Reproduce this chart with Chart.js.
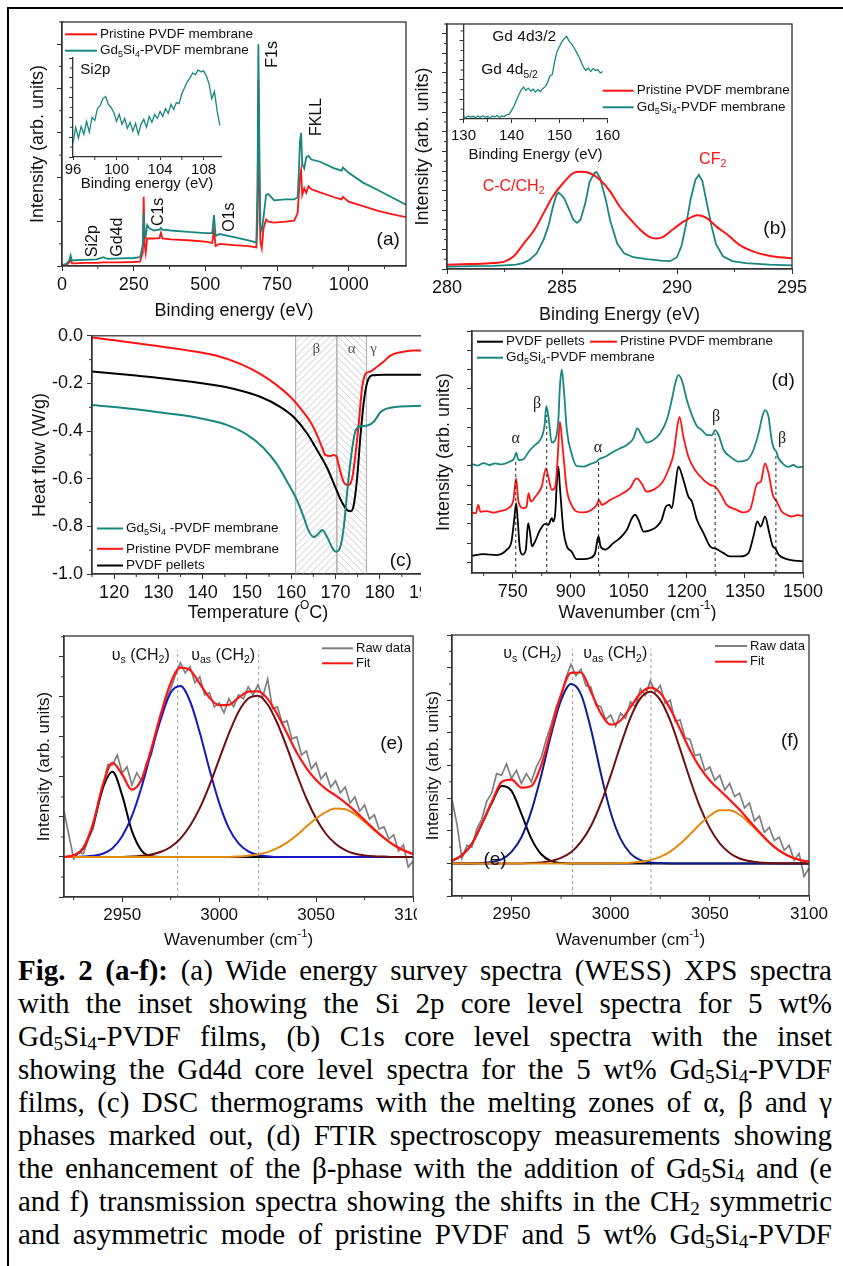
<!DOCTYPE html>
<html>
<head>
<meta charset="utf-8">
<title>Fig. 2 (a-f)</title>
<script src="https://cdn.jsdelivr.net/npm/chart.js@4.4.1/dist/chart.umd.min.js"></script>
<style>
	html, body { margin: 0; padding: 0; background: #fff; }
	body { width: 843px; height: 1266px; position: relative; overflow: hidden; }
	#frame { position: absolute; left: 7px; top: 7px; width: 900px; height: 1300px; border-left: 2px solid #000; border-top: 2px solid #000; }
	.pane { position: absolute; overflow: hidden; }
	.pane canvas { position: absolute; left: 0; top: 0; }
	#caption { position: absolute; left: 18px; top: 954px; width: 814px; font: 29px/33px 'Liberation Serif', 'Times New Roman', serif; color: #000; }
	#caption div { height: 33px; text-align: justify; text-align-last: justify; }
	#caption sub { font-size: 0.66em; vertical-align: -0.2em; line-height: 0; }
</style>
</head>
<body>
<div id="frame"></div>
<div id="caption">
	<div><b>Fig. 2 (a-f):</b> (a) Wide energy survey spectra (WESS) XPS spectra</div>
	<div>with the inset showing the Si 2p core level spectra for 5 wt%</div>
	<div>Gd<sub>5</sub>Si<sub>4</sub>-PVDF films, (b) C1s core level spectra with the inset</div>
	<div>showing the Gd4d core level spectra for the 5 wt% Gd<sub>5</sub>Si<sub>4</sub>-PVDF</div>
	<div>films, (c) DSC thermograms with the melting zones of α, β and γ</div>
	<div>phases marked out, (d) FTIR spectroscopy measurements showing</div>
	<div>the enhancement of the β-phase with the addition of Gd<sub>5</sub>Si<sub>4</sub> and (e</div>
	<div>and f) transmission spectra showing the shifts in the CH<sub>2</sub> symmetric</div>
	<div>and asymmetric mode of pristine PVDF and 5 wt% Gd<sub>5</sub>Si<sub>4</sub>-PVDF</div>
</div>
<script>
// ----- ----- -----
// data
// ----- ----- -----

// (a) wide survey, y in arb. units
const aEnergy = [0, 15, 25, 30, 35, 45, 80, 120, 145, 150, 160, 200, 250, 272, 278, 282, 285, 288, 292, 297, 305, 320, 340, 345, 350, 380, 440, 500, 524, 530, 536, 550, 600, 650, 678, 682, 685, 688, 692, 697, 703, 712, 720, 740, 780, 810, 822, 826, 830, 834, 838, 845, 852, 860, 870, 900, 950, 975, 980, 1000, 1050, 1100, 1150, 1200];
const aGdSi = [0.02, 0.05, 0.12, 0.24, 0.12, 0.13, 0.14, 0.15, 0.20, 0.18, 0.16, 0.17, 0.18, 0.20, 0.35, 0.50, 1.19, 0.75, 0.66, 0.92, 0.85, 0.80, 0.82, 0.86, 0.82, 0.80, 0.77, 0.74, 0.74, 1.15, 0.68, 0.72, 0.65, 0.58, 0.53, 1.8, 5.0, 3.0, 0.9, 0.8, 1.1, 1.6, 1.62, 1.48, 1.50, 1.50, 1.55, 2.1, 2.8, 3.0, 2.3, 2.2, 2.45, 2.48, 2.40, 2.35, 2.20, 2.15, 2.22, 2.10, 1.88, 1.72, 1.55, 1.38];
const aPristine = [0.00, 0.02, 0.08, 0.14, 0.06, 0.06, 0.07, 0.07, 0.08, 0.08, 0.08, 0.08, 0.09, 0.10, 0.22, 0.30, 1.56, 0.50, 0.30, 0.62, 0.62, 0.62, 0.63, 0.75, 0.62, 0.60, 0.58, 0.55, 0.52, 0.80, 0.45, 0.50, 0.47, 0.45, 0.42, 1.0, 4.2, 2.0, 0.55, 0.40, 0.85, 1.05, 1.00, 0.98, 1.00, 1.02, 1.20, 1.60, 2.00, 2.16, 1.60, 1.75, 1.65, 1.80, 1.73, 1.66, 1.55, 1.50, 1.56, 1.45, 1.35, 1.25, 1.17, 1.10];
const aTicks = [0, 250, 500, 750, 1000];

// (a) inset, Si 2p
const siEnergy = [96, 96.25, 96.5, 96.75, 97, 97.25, 97.5, 97.75, 98, 98.25, 98.5, 98.75, 99, 99.25, 99.5, 99.75, 100, 100.25, 100.5, 100.75, 101, 101.25, 101.5, 101.75, 102, 102.25, 102.5, 102.75, 103, 103.25, 103.5, 103.75, 104, 104.25, 104.5, 104.75, 105, 105.25, 105.5, 105.75, 106, 106.25, 106.5, 106.75, 107, 107.25, 107.5, 107.75, 108, 108.25, 108.5, 108.75, 109, 109.25, 109.5];
const siCounts = [1.4, 3.0, 1.9, 3.1, 2.3, 3.6, 2.5, 4.0, 3.7, 4.9, 5.2, 5.9, 6.1, 5.3, 5.0, 4.5, 3.6, 4.3, 3.3, 3.9, 2.9, 3.5, 2.6, 3.4, 2.3, 3.3, 3.8, 3.0, 4.1, 3.5, 4.3, 3.9, 4.6, 4.1, 4.9, 4.4, 5.3, 4.8, 5.5, 5.4, 6.4, 7.0, 7.6, 8.0, 8.5, 8.3, 8.8, 8.6, 8.7, 8.2, 7.4, 5.9, 6.6, 4.6, 3.2];
const siTicks = [96, 100, 104, 108];

// (b) C 1s
const bPristineE = [280, 281, 282, 282.5, 282.9, 283.3, 283.8, 284.2, 284.6, 285.1, 285.5, 285.8, 286.2, 286.65, 287.1, 287.5, 288.0, 288.4, 288.8, 289.1, 289.4, 289.8, 290.3, 290.7, 290.9, 291.3, 291.7, 292.2, 292.7, 293.3, 294.0, 295.0];
const bPristine = [0.44, 0.5, 0.6, 0.75, 1.29, 2.48, 4.0, 5.7, 7.4, 8.9, 9.8, 9.93, 9.8, 9.1, 7.9, 6.4, 5.0, 4.0, 3.27, 3.1, 3.27, 4.0, 4.86, 5.37, 5.48, 5.2, 4.35, 3.5, 2.48, 1.8, 1.36, 1.09];
const bGdSiE = [280, 281, 282, 282.5, 283, 283.3, 283.6, 283.9, 284.2, 284.4, 284.6, 284.75, 284.85, 284.95, 285.1, 285.3, 285.5, 285.65, 285.8, 286.0, 286.2, 286.4, 286.5, 286.65, 286.9, 287.1, 287.4, 287.7, 288.1, 288.7, 289.3, 289.7, 290.0, 290.2, 290.4, 290.6, 290.8, 290.95, 291.1, 291.3, 291.5, 291.7, 292.0, 292.4, 293.0, 294.0, 295.0];
const bGdSi = [0.25, 0.3, 0.32, 0.38, 0.45, 0.6, 0.95, 1.6, 3.0, 4.3, 6.3, 7.5, 7.8, 7.6, 7.2, 6.1, 5.0, 4.7, 5.0, 6.6, 8.9, 9.75, 9.9, 9.3, 7.1, 4.9, 2.6, 1.6, 1.2, 1.0, 0.85, 0.8, 1.2, 2.4, 4.6, 7.2, 9.1, 9.6, 9.0, 6.7, 4.4, 2.5, 1.3, 0.8, 0.6, 0.45, 0.37];
const bTicks = [280, 285, 290, 295];

// (b) inset, Gd 4d
const gdEnergy = [130, 130.5, 131, 131.5, 132, 132.5, 133, 133.5, 134, 134.5, 135, 135.5, 136, 136.5, 137, 137.5, 138, 138.5, 139, 139.5, 140, 140.5, 141, 141.5, 142, 142.5, 143, 143.5, 144, 144.5, 145, 145.5, 146, 146.5, 147, 147.5, 148, 148.5, 149, 149.5, 150, 150.5, 151, 151.5, 152, 152.5, 153, 153.5, 154, 154.5, 155, 155.5, 156, 156.5, 157, 157.5, 158, 158.5, 159];
const gdCounts = [0.25, 0.15, 0.30, 0.20, 0.28, 0.12, 0.30, 0.18, 0.32, 0.20, 0.25, 0.08, 0.30, 0.22, 0.35, 0.15, 0.30, 0.25, 0.42, 0.50, 0.85, 1.30, 1.90, 2.45, 2.95, 3.25, 2.90, 3.15, 2.85, 3.05, 2.75, 3.00, 2.80, 3.10, 3.30, 3.70, 4.40, 4.55, 5.90, 6.90, 7.40, 7.90, 8.20, 8.45, 7.95, 7.70, 7.30, 6.85, 6.40, 5.85, 5.30, 4.95, 5.20, 4.85, 5.15, 4.95, 5.05, 4.70, 4.85];
const gdTicks = [130, 140, 150, 160];

// (c) DSC, heat flow in W/g
const cGdSiT = [115, 124.3, 131.8, 139.4, 145.4, 150, 153.7, 156.8, 159, 161.3, 162.8, 163.9, 165.1, 166.2, 167, 168.1, 169.6, 170.2, 171.1, 171.9, 172.6, 173.4, 174.5, 175.6, 177.2, 178.7, 180.2, 182.4, 190];
const cGdSi = [-0.29, -0.307, -0.325, -0.346, -0.374, -0.415, -0.47, -0.54, -0.61, -0.69, -0.76, -0.817, -0.845, -0.83, -0.815, -0.845, -0.9, -0.907, -0.886, -0.8, -0.665, -0.526, -0.4, -0.38, -0.377, -0.36, -0.32, -0.302, -0.294];
const cPristineT = [115, 120.5, 128, 135.5, 143, 148.5, 153, 156.8, 159.8, 162.1, 164.3, 165.8, 167, 167.7, 168.9, 169.6, 170.2, 170.7, 171.5, 172.2, 173, 173.8, 174.5, 175.3, 176, 176.8, 177.9, 179.4, 180.9, 182.4, 184.7, 187.7, 190];
const cPristine = [-0.007, -0.02, -0.039, -0.058, -0.083, -0.118, -0.16, -0.208, -0.256, -0.305, -0.36, -0.415, -0.47, -0.5, -0.505, -0.5, -0.505, -0.54, -0.596, -0.623, -0.626, -0.596, -0.5, -0.36, -0.22, -0.16, -0.15, -0.13, -0.108, -0.083, -0.069, -0.062, -0.062];
const cPelletT = [115, 124.3, 131.8, 139.4, 146.9, 153, 157.5, 160.5, 163.6, 165.8, 168.1, 170, 171.5, 172.6, 173.4, 174.1, 174.9, 175.6, 176.4, 177.2, 178.3, 180.9, 190];
const cPellet = [-0.15, -0.166, -0.18, -0.198, -0.222, -0.256, -0.298, -0.34, -0.41, -0.478, -0.554, -0.637, -0.7, -0.731, -0.737, -0.713, -0.596, -0.43, -0.277, -0.194, -0.166, -0.163, -0.163];
const cZoneFrom = [161, 170.3];
const cZoneTo = [170.3, 177];
const cPhase = ['β', 'α', 'γ'];
const cPhaseT = [165.65, 173.65, 178.6];
const cTicksX = [120, 130, 140, 150, 160, 170, 180, 190];
const cTicksY = [-1.0, -0.8, -0.6, -0.4, -0.2, 0.0];

// (d) FTIR, curves offset in arb. units
const dPelletW = [645, 674, 709, 735, 747, 754, 759, 763, 769, 776, 784, 790, 795, 800, 808, 821, 834, 842, 851, 855, 860, 864, 868, 872, 881, 890, 902, 915, 933, 950, 963, 969, 972, 977, 989, 1010, 1027, 1045, 1058, 1066, 1075, 1088, 1105, 1122, 1135, 1146, 1155, 1161, 1170, 1178, 1191, 1204, 1213, 1226, 1243, 1260, 1277, 1295, 1312, 1338, 1359, 1372, 1382, 1391, 1402, 1413, 1422, 1428, 1437, 1458, 1500];
const dPellet = [0.35, 0.43, 0.38, 0.66, 1.09, 2.21, 3.07, 2.21, 0.66, 0.40, 0.66, 2.04, 1.52, 0.83, 1.09, 1.69, 2.00, 1.95, 2.29, 2.12, 2.55, 4.10, 4.97, 3.93, 1.69, 0.83, 0.57, 0.17, 0.17, 0.23, 0.48, 1.17, 1.35, 0.83, 0.66, 1.00, 1.26, 1.69, 2.29, 2.47, 2.21, 1.60, 1.66, 1.86, 2.21, 2.90, 2.98, 2.81, 3.93, 4.97, 4.28, 3.41, 3.16, 2.21, 1.52, 0.83, 0.69, 0.48, 0.31, 0.31, 0.48, 1.35, 2.12, 1.86, 2.38, 1.52, 0.83, 0.74, 0.40, 0.17, 0.05];
const dPristineW = [645, 655, 661, 667, 683, 700, 717, 739, 752, 759, 765, 778, 786, 791, 797, 812, 825, 836, 842, 851, 860, 866, 872, 879, 890, 902, 915, 933, 954, 967, 973, 980, 1002, 1027, 1053, 1070, 1083, 1096, 1113, 1135, 1152, 1166, 1174, 1181, 1191, 1204, 1221, 1243, 1260, 1273, 1286, 1303, 1325, 1346, 1363, 1382, 1391, 1402, 1411, 1422, 1432, 1445, 1458, 1470, 1485, 1500];
const dPristine = [2.59, 2.55, 2.98, 2.62, 2.66, 2.58, 2.66, 2.81, 3.24, 4.36, 3.14, 2.81, 2.90, 3.59, 3.16, 3.50, 3.93, 4.88, 4.45, 3.76, 3.93, 5.31, 7.29, 6.00, 3.76, 2.98, 2.64, 2.59, 2.73, 2.98, 3.24, 2.98, 3.24, 3.50, 3.85, 4.36, 4.10, 3.67, 3.76, 4.10, 4.79, 5.66, 6.86, 7.55, 6.52, 5.48, 4.79, 4.28, 4.02, 3.93, 3.59, 2.98, 2.76, 2.59, 2.73, 4.10, 4.19, 5.14, 4.62, 3.50, 3.16, 2.64, 2.47, 2.38, 2.45, 2.41];
const dGdSiW = [645, 660, 675, 690, 705, 720, 743, 754, 759, 765, 778, 786, 795, 808, 821, 832, 837, 843, 851, 860, 868, 872, 877, 883, 890, 902, 915, 933, 950, 967, 973, 989, 1010, 1027, 1045, 1062, 1072, 1083, 1096, 1113, 1131, 1148, 1161, 1170, 1178, 1187, 1200, 1213, 1226, 1239, 1252, 1265, 1273, 1282, 1295, 1312, 1333, 1355, 1372, 1385, 1396, 1402, 1411, 1419, 1424, 1431, 1437, 1449, 1462, 1475, 1488, 1500];
const dGdSi = [5.10, 5.02, 5.15, 5.05, 5.14, 5.08, 5.23, 5.40, 5.69, 5.31, 5.35, 5.57, 5.83, 6.09, 6.35, 7.04, 8.10, 7.47, 6.21, 6.35, 7.38, 9.10, 10.00, 8.76, 6.86, 5.66, 5.00, 4.97, 5.10, 5.23, 5.35, 5.48, 5.74, 5.91, 6.09, 6.43, 6.95, 6.60, 6.21, 6.35, 6.69, 7.38, 8.42, 9.28, 9.71, 9.45, 8.42, 7.64, 7.07, 6.86, 6.60, 6.60, 6.86, 6.60, 5.83, 5.48, 5.23, 5.31, 5.83, 6.69, 7.64, 7.90, 7.55, 6.35, 5.95, 5.74, 5.40, 5.10, 4.95, 5.05, 4.93, 4.97];
const dMarkW = [758, 838, 972, 1273, 1430];
const dMarkTop = [5.31, 7.64, 5.31, 6.69, 5.66];
const dMarkName = ['α', 'β', 'α', 'β', 'β'];
const dMarkLabelW = [758, 813, 970.6, 1275.5, 1446];
const dMarkLabelY = [6.43, 8.24, 5.92, 7.57, 6.43];
const dTicks = [750, 900, 1050, 1200, 1350, 1500];

// (e) and (f) CH2 stretching region
const fitWave = [2920, 2925, 2930, 2935, 2940, 2945, 2950, 2955, 2960, 2965, 2970, 2975, 2980, 2985, 2990, 2995, 3000, 3005, 3010, 3015, 3020, 3025, 3030, 3035, 3040, 3045, 3050, 3055, 3060, 3065, 3070, 3075, 3080, 3085, 3090, 3095, 3100];
const rawWave = [2920, 2922.5, 2925, 2927.5, 2930, 2932.5, 2935, 2937.5, 2940, 2942.5, 2945, 2947.5, 2950, 2952.5, 2955, 2957.5, 2960, 2962.5, 2965, 2967.5, 2970, 2972.5, 2975, 2977.5, 2980, 2982.5, 2985, 2987.5, 2990, 2992.5, 2995, 2997.5, 3000, 3002.5, 3005, 3007.5, 3010, 3012.5, 3015, 3017.5, 3020, 3022.5, 3025, 3027.5, 3030, 3032.5, 3035, 3037.5, 3040, 3042.5, 3045, 3047.5, 3050, 3052.5, 3055, 3057.5, 3060, 3062.5, 3065, 3067.5, 3070, 3072.5, 3075, 3077.5, 3080, 3082.5, 3085, 3087.5, 3090, 3092.5, 3095, 3097.5, 3100];
const waveTicks = [2950, 3000, 3050, 3100];

const eRaw = [1.15, 0.55, -0.05, 0.12, 0.08, 0.45, 0.70, 1.25, 1.70, 2.30, 2.30, 2.55, 2.10, 2.25, 1.80, 2.10, 1.90, 2.35, 2.55, 3.10, 3.45, 3.90, 4.20, 4.55, 4.85, 4.60, 4.75, 4.35, 4.50, 4.05, 4.10, 3.75, 3.85, 3.60, 3.95, 3.75, 4.05, 3.95, 4.25, 4.05, 4.30, 4.00, 4.45, 3.70, 3.75, 3.35, 3.40, 2.95, 3.00, 2.55, 2.65, 2.20, 2.35, 1.95, 2.10, 1.75, 1.90, 1.60, 1.75, 1.35, 1.50, 1.15, 1.30, 0.95, 1.05, 0.70, 0.75, 0.45, 0.55, 0.15, 0.30, -0.25, -0.10];
const eFit = [0.00, 0.04, 0.23, 0.84, 1.80, 2.35, 2.06, 1.68, 1.94, 2.70, 3.59, 4.35, 4.73, 4.67, 4.33, 3.98, 3.79, 3.80, 3.98, 4.13, 4.14, 3.95, 3.56, 3.09, 2.61, 2.22, 1.92, 1.70, 1.54, 1.36, 1.15, 0.92, 0.69, 0.48, 0.30, 0.17, 0.07];
const eBand1 = [0, 0.04, 0.22, 0.81, 1.72, 2.13, 1.54, 0.65, 0.16, 0.02, 0, 0, 0, 0, 0, 0, 0, 0, 0, 0, 0, 0, 0, 0, 0, 0, 0, 0, 0, 0, 0, 0, 0, 0, 0, 0, 0];
const eBand2 = [0, 0, 0.01, 0.03, 0.08, 0.22, 0.52, 1.02, 1.75, 2.62, 3.46, 4.10, 4.27, 3.89, 3.11, 2.19, 1.35, 0.72, 0.34, 0.14, 0.05, 0.02, 0, 0, 0, 0, 0, 0, 0, 0, 0, 0, 0, 0, 0, 0, 0];
const eBand3 = [0, 0, 0, 0, 0, 0, 0, 0.01, 0.03, 0.06, 0.13, 0.25, 0.46, 0.78, 1.22, 1.79, 2.44, 3.08, 3.63, 3.96, 4.03, 3.81, 3.34, 2.73, 2.07, 1.46, 0.96, 0.58, 0.33, 0.17, 0.08, 0.04, 0.02, 0.01, 0, 0, 0];
const eBand4 = [0, 0, 0, 0, 0, 0, 0, 0, 0, 0, 0, 0, 0, 0, 0, 0, 0, 0, 0.01, 0.03, 0.06, 0.12, 0.22, 0.36, 0.54, 0.76, 0.96, 1.12, 1.21, 1.19, 1.07, 0.88, 0.67, 0.47, 0.30, 0.17, 0.07];
const eMarkW = [2978.6, 3020.4];
const eMarkTop = 5.17;

const fRaw = [1.95, 1.20, 0.15, 0.55, 0.50, 1.05, 1.35, 1.90, 2.15, 2.75, 2.70, 3.05, 2.60, 2.85, 2.45, 2.75, 2.50, 2.95, 3.25, 3.80, 4.25, 4.80, 5.10, 5.70, 6.10, 5.75, 5.95, 5.45, 5.40, 4.85, 4.80, 4.40, 4.55, 4.20, 4.60, 4.45, 4.95, 4.80, 5.35, 5.15, 5.60, 5.25, 5.45, 4.90, 5.00, 4.35, 4.40, 3.85, 3.80, 3.30, 3.35, 2.85, 2.95, 2.55, 2.70, 2.25, 2.45, 2.05, 2.15, 1.70, 1.85, 1.30, 1.45, 0.95, 1.10, 0.70, 0.80, 0.40, 0.55, 0.10, 0.30, -0.40, -0.15];
const fFit = [0.08, 0.25, 0.60, 1.21, 1.88, 2.49, 2.57, 2.32, 2.37, 3.01, 4.09, 5.18, 5.84, 5.85, 5.27, 4.60, 4.25, 4.38, 4.79, 5.21, 5.39, 5.22, 4.74, 4.11, 3.47, 2.94, 2.54, 2.24, 1.95, 1.64, 1.30, 0.96, 0.64, 0.39, 0.22, 0.11, 0.05];
const fBand1 = [0.08, 0.25, 0.60, 1.20, 1.84, 2.37, 2.22, 1.52, 0.76, 0.28, 0.07, 0.01, 0, 0, 0, 0, 0, 0, 0, 0, 0, 0, 0, 0, 0, 0, 0, 0, 0, 0, 0, 0, 0, 0, 0, 0, 0];
const fBand2 = [0, 0, 0, 0.01, 0.04, 0.12, 0.35, 0.80, 1.60, 2.70, 3.95, 5.00, 5.50, 5.19, 4.13, 2.77, 1.56, 0.75, 0.30, 0.10, 0.03, 0.01, 0, 0, 0, 0, 0, 0, 0, 0, 0, 0, 0, 0, 0, 0, 0];
const fBand3 = [0, 0, 0, 0, 0, 0, 0, 0, 0.01, 0.03, 0.07, 0.17, 0.34, 0.66, 1.14, 1.83, 2.69, 3.62, 4.47, 5.06, 5.26, 5.01, 4.38, 3.51, 2.58, 1.74, 1.08, 0.61, 0.32, 0.15, 0.07, 0.03, 0.01, 0, 0, 0, 0];
const fBand4 = [0, 0, 0, 0, 0, 0, 0, 0, 0, 0, 0, 0, 0, 0, 0, 0, 0, 0.01, 0.02, 0.05, 0.10, 0.20, 0.36, 0.60, 0.89, 1.20, 1.46, 1.63, 1.63, 1.49, 1.23, 0.93, 0.63, 0.39, 0.22, 0.11, 0.05];
const fMarkW = [2980.8, 3020.3];
const fMarkTop = 6.58;

// ----- ----- -----
// drawing helpers
// ----- ----- -----

const SANS = "'Liberation Sans', Arial, Helvetica, sans-serif";
const SERIF = "'Liberation Serif', 'Times New Roman', serif";
const RED = '#ff1414';
const TEAL = '#17877f';
const GRAY = '#7f7f7f';
const ORANGE = '#e3890e';

Chart.defaults.font.family = SANS;
Chart.defaults.color = '#111';

const extras = {};

// "Gd_{5}Si_{4}" -> pieces with sub/superscript marks
function richParts(s) {
	const out = [];
	const re = /([_^])\{([^}]*)\}/g;
	let last = 0, m;
	while ((m = re.exec(s))) {
		if (m.index > last) out.push({t: s.slice(last, m.index), m: 0});
		out.push({t: m[2], m: m[1] === '_' ? -1 : 1});
		last = re.lastIndex;
	}
	if (last < s.length) out.push({t: s.slice(last), m: 0});
	return out;
}

function drawRich(ctx, s, x, y, o) {
	const size = o.size || 16;
	const fam = o.fam || SANS;
	const parts = richParts(s);
	let w = 0;
	parts.forEach(p => {
		p.sz = p.m ? size * 0.66 : size;
		ctx.font = p.sz + 'px ' + fam;
		p.w = ctx.measureText(p.t).width;
		w += p.w;
	});
	ctx.save();
	ctx.translate(x, y);
	if (o.rot) ctx.rotate(o.rot);
	ctx.fillStyle = o.color || '#111';
	ctx.textBaseline = 'middle';
	ctx.textAlign = 'left';
	let cx = o.align === 'center' ? -w / 2 : (o.align === 'right' ? -w : 0);
	parts.forEach(p => {
		ctx.font = p.sz + 'px ' + fam;
		const dy = p.m < 0 ? size * 0.3 : (p.m > 0 ? -size * 0.38 : 0);
		ctx.fillText(p.t, cx, dy);
		cx += p.w;
	});
	ctx.restore();
}

function minorTicks(ctx, scale, step, horiz, a) {
	const majors = scale.ticks.map(t => t.value);
	for (let i = Math.ceil(scale.min / step - 1e-9); i * step <= scale.max + 1e-9; i++) {
		const v = i * step;
		if (majors.some(mv => Math.abs(mv - v) < step * 1e-3)) continue;
		const p = scale.getPixelForValue(v);
		ctx.beginPath();
		if (horiz) { ctx.moveTo(p, a.bottom); ctx.lineTo(p, a.bottom + 3); }
		else { ctx.moveTo(a.left, p); ctx.lineTo(a.left - 3, p); }
		ctx.stroke();
	}
}

const deco = {
	id: 'deco',
	beforeDatasetsDraw(chart) {
		const ex = extras[chart.canvas.id];
		if (!ex || !ex.zones) return;
		const ctx = chart.ctx, a = chart.chartArea, sx = chart.scales.x;
		const h = a.bottom - a.top;
		ex.zones.forEach(z => {
			const x1 = sx.getPixelForValue(z.from), x2 = sx.getPixelForValue(z.to);
			ctx.save();
			ctx.beginPath();
			ctx.rect(x1, a.top, x2 - x1, h);
			ctx.clip();
			ctx.strokeStyle = '#cbcbcb';
			ctx.lineWidth = 1;
			for (let k = x1 - h; k < x2 + h; k += 7) {
				ctx.beginPath();
				if (z.dir > 0) { ctx.moveTo(k, a.bottom); ctx.lineTo(k + h, a.top); }
				else { ctx.moveTo(k, a.top); ctx.lineTo(k + h, a.bottom); }
				ctx.stroke();
			}
			ctx.restore();
			ctx.save();
			ctx.strokeStyle = '#b4b4b4';
			ctx.lineWidth = 1.2;
			[x1, x2].forEach(px => {
				ctx.beginPath(); ctx.moveTo(px, a.top); ctx.lineTo(px, a.bottom); ctx.stroke();
			});
			ctx.restore();
		});
	},
	afterDatasetsDraw(chart) {
		const ex = extras[chart.canvas.id];
		if (!ex) return;
		const ctx = chart.ctx, a = chart.chartArea;
		ctx.save();
		ctx.strokeStyle = '#333';
		if (ex.box) {
			ctx.lineWidth = 1.3;
			ctx.strokeRect(a.left, a.top, a.right - a.left, a.bottom - a.top);
		}
		ctx.lineWidth = 1;
		if (ex.minorX) minorTicks(ctx, chart.scales.x, ex.minorX, true, a);
		if (ex.minorY) minorTicks(ctx, chart.scales.y, ex.minorY, false, a);
		ctx.restore();

		(ex.legend || []).forEach(l => {
			const x = a.left + l.px, y = a.top + l.py;
			ctx.save();
			ctx.strokeStyle = l.color;
			ctx.lineWidth = 2;
			ctx.beginPath(); ctx.moveTo(x, y); ctx.lineTo(x + l.len, y); ctx.stroke();
			ctx.restore();
			drawRich(ctx, l.t, x + l.len + 3, y, {size: l.size || 13.5});
		});

		(ex.notes || []).forEach(n => {
			const x = n.px !== undefined ? a.left + n.px : chart.scales.x.getPixelForValue(n.x);
			const y = n.py !== undefined ? a.top + n.py : chart.scales.y.getPixelForValue(n.y);
			drawRich(ctx, n.t, x, y, n);
		});

		if (ex.xTitle) drawRich(ctx, ex.xTitle.t, (a.left + a.right) / 2, a.bottom + ex.xTitle.off, {size: ex.xTitle.size, align: 'center'});
		if (ex.yTitle) drawRich(ctx, ex.yTitle.t, a.left - ex.yTitle.off, (a.top + a.bottom) / 2, {size: ex.yTitle.size, align: 'center', rot: -Math.PI / 2});
	}
};
Chart.register(deco);

function axis(min, max, step, o) {
	o = o || {};
	const ax = {
		type: 'linear',
		min: min,
		max: max,
		ticks: {
			display: !!o.labels,
			stepSize: step,
			includeBounds: false,
			autoSkip: false,
			maxRotation: 0,
			padding: o.pad === undefined ? 3 : o.pad,
			color: '#111',
			font: {size: o.fs || 18, family: SANS},
			callback: o.fmt || (v => String(v))
		},
		grid: {drawOnChartArea: false, drawTicks: true, tickLength: o.len || 5, color: '#333', tickColor: '#333', lineWidth: 1},
		border: {display: true, color: '#333', width: 1.3}
	};
	// labelled axes get their tick values from the arrays above
	if (o.at) ax.afterBuildTicks = s => { s.ticks = o.at.map(v => ({value: v})); };
	return ax;
}

function line(xs, ys, color, extra) {
	return Object.assign({
		data: xs.map((x, i) => ({x: x, y: ys[i]})),
		borderColor: color,
		borderWidth: 2,
		pointRadius: 0,
		fill: false,
		tension: 0
	}, extra || {});
}

const smooth = {cubicInterpolationMode: 'monotone'};

function marker(x, bottom, top, color) {
	return {
		data: [{x: x, y: bottom}, {x: x, y: top}],
		borderColor: color,
		borderWidth: 1,
		borderDash: [3, 3],
		pointRadius: 0,
		fill: false
	};
}

// area = plot box on the page, m = room round it for ticks and titles
function build(id, area, m, xAx, yAx, sets, ex, clipW) {
	const W = area.w + m.l + m.r, H = area.h + m.t + m.b;
	const pane = document.createElement('div');
	pane.className = 'pane';
	pane.style.left = (area.x - m.l) + 'px';
	pane.style.top = (area.y - m.t) + 'px';
	pane.style.width = (clipW || W) + 'px';
	pane.style.height = H + 'px';
	const cv = document.createElement('canvas');
	cv.id = id;
	cv.width = W;
	cv.height = H;
	pane.appendChild(cv);
	document.body.appendChild(pane);
	extras[id] = ex;

	xAx.position = 'bottom';
	xAx.afterFit = s => { s.height = m.b; };
	yAx.position = 'left';
	yAx.afterFit = s => { s.width = m.l; };

	return new Chart(cv, {
		type: 'line',
		data: {datasets: sets},
		options: {
			responsive: false,
			animation: false,
			devicePixelRatio: 1,
			events: [],
			layout: {padding: {left: 0, top: m.t, right: m.r, bottom: 0}},
			plugins: {legend: {display: false}, tooltip: {enabled: false}},
			scales: {x: xAx, y: yAx}
		}
	});
}

// ----- ----- -----
// (a) survey + Si 2p inset
// ----- ----- -----

build('chartA', {x: 62, y: 22, w: 344, h: 244}, {l: 58, t: 12, r: 14, b: 56},
	axis(0, 1200, 250, {labels: true, at: aTicks}),
	axis(0, 5.5, 1),
	[
		line(aEnergy, aGdSi, TEAL, {borderWidth: 1.8}),
		line(aEnergy, aPristine, RED, {borderWidth: 1.8})
	],
	{
		box: true, minorX: 125, minorY: 0.5,
		legend: [
			{t: 'Pristine PVDF membrane', px: 3, py: 12.3, color: RED, len: 32},
			{t: 'Gd_{5}Si_{4}-PVDF membrane', px: 3, py: 28.7, color: TEAL, len: 32}
		],
		notes: [
			{t: 'F1s', x: 734, y: 4.77, size: 16, align: 'center', rot: -Math.PI / 2},
			{t: 'FKLL', x: 888, y: 3.36, size: 16, align: 'center', rot: -Math.PI / 2},
			{t: 'C1s', x: 336, y: 1.22, size: 16, align: 'center', rot: -Math.PI / 2},
			{t: 'O1s', x: 584, y: 1.1, size: 16, align: 'center', rot: -Math.PI / 2},
			{t: 'Si2p', x: 107, y: 0.56, size: 16, align: 'center', rot: -Math.PI / 2},
			{t: 'Gd4d', x: 195, y: 0.65, size: 16, align: 'center', rot: -Math.PI / 2},
			{t: '(a)', x: 1138, y: 0.59, size: 19, align: 'center'}
		],
		xTitle: {t: 'Binding energy (eV)', off: 45, size: 18},
		yTitle: {t: 'Intensity (arb. units)', off: 24, size: 18}
	});

build('chartAin', {x: 73, y: 58, w: 148, h: 99}, {l: 14, t: 6, r: 14, b: 36},
	axis(96, 109.6, 4, {labels: true, fs: 15, len: 3, pad: 1, at: siTicks}),
	axis(0, 10, 2, {len: 4}),
	[line(siEnergy, siCounts, TEAL, {borderWidth: 1.3})],
	{
		minorX: 2, minorY: 1,
		notes: [{t: 'Si2p', x: 96.67, y: 8.8, size: 15}],
		xTitle: {t: 'Binding energy (eV)', off: 27, size: 15}
	});

// ----- ----- -----
// (b) C 1s + Gd 4d inset
// ----- ----- -----

build('chartB', {x: 447, y: 24, w: 345, h: 245}, {l: 34, t: 12, r: 30, b: 56},
	axis(280, 295, 5, {labels: true, at: bTicks}),
	axis(0, 25, 2),
	[
		line(bPristineE, bPristine, RED, Object.assign({borderWidth: 2}, smooth)),
		line(bGdSiE, bGdSi, TEAL, {borderWidth: 1.8})
	],
	{
		box: true, minorX: 2.5, minorY: 1,
		legend: [
			{t: 'Pristine PVDF membrane', px: 155.7, py: 66.7, color: RED, len: 31},
			{t: 'Gd_{5}Si_{4}-PVDF membrane', px: 155.7, py: 83.3, color: TEAL, len: 31}
		],
		notes: [
			{t: 'C-C/CH_{2}', x: 281.55, y: 8.4, size: 16, color: RED},
			{t: 'CF_{2}', x: 290.96, y: 11.2, size: 16, color: RED},
			{t: '(b)', x: 294.26, y: 4.08, size: 19, align: 'center'}
		],
		xTitle: {t: 'Binding Energy (eV)', off: 46, size: 18},
		yTitle: {t: 'Intensity (arb. units)', off: 24, size: 18}
	});

build('chartBin', {x: 463, y: 25, w: 145, h: 94}, {l: 16, t: 6, r: 16, b: 46},
	axis(130, 160, 10, {labels: true, fs: 15, len: 4, pad: 4, at: gdTicks}),
	axis(0, 9.6, 2, {len: 4}),
	[line(gdEnergy, gdCounts, TEAL, {borderWidth: 1.3})],
	{
		minorX: 5, minorY: 1,
		notes: [
			{t: 'Gd 4d3/2', x: 136.0, y: 8.37, size: 15.5},
			{t: 'Gd 4d_{5/2}', x: 133.7, y: 5.0, size: 15.5}
		],
		xTitle: {t: 'Binding Energy (eV)', off: 36, size: 15}
	});

// ----- ----- -----
// (c) DSC
// ----- ----- -----

build('chartC', {x: 92, y: 333, w: 332, h: 241}, {l: 80, t: 12, r: 20, b: 48},
	axis(115, 190, 10, {labels: true, at: cTicksX}),
	axis(-1, 0, 0.2, {labels: true, pad: 4, fmt: v => v.toFixed(1), at: cTicksY}),
	[
		line(cGdSiT, cGdSi, TEAL, smooth),
		line(cPristineT, cPristine, RED, smooth),
		line(cPelletT, cPellet, '#000', smooth)
	],
	{
		box: true, minorX: 5, minorY: 0.1,
		zones: cZoneFrom.map((f, i) => ({from: f, to: cZoneTo[i], dir: i === 0 ? 1 : -1})),
		notes: cPhase.map((p, i) => ({t: p, x: cPhaseT[i], y: -0.054, size: 15, fam: SERIF, color: '#555', align: 'center'})).concat([
			{t: '(c)', x: 184.75, y: -0.945, size: 19, align: 'center'}
		]),
		legend: [
			{t: 'Gd_{5}Si_{4} -PVDF membrane', px: 5, py: 192.7, color: TEAL, len: 26},
			{t: 'Pristine PVDF membrane', px: 5, py: 213, color: RED, len: 26},
			{t: 'PVDF pellets', px: 5, py: 229.7, color: '#000', len: 26}
		],
		xTitle: {t: 'Temperature (^{O}C)', off: 39, size: 18},
		yTitle: {t: 'Heat flow (W/g)', off: 52, size: 18}
	}, 409);

// ----- ----- -----
// (d) FTIR
// ----- ----- -----

build('chartD', {x: 472, y: 331, w: 331, h: 242}, {l: 45, t: 10, r: 30, b: 48},
	axis(645, 1500, 150, {labels: true, at: dTicks}),
	axis(-0.55, 12, 1),
	dMarkW.map((w, i) => marker(w, -0.55, dMarkTop[i], '#222')).concat([
		line(dGdSiW, dGdSi, TEAL, Object.assign({borderWidth: 1.8}, smooth)),
		line(dPristineW, dPristine, RED, Object.assign({borderWidth: 1.8}, smooth)),
		line(dPelletW, dPellet, '#000', Object.assign({borderWidth: 1.8}, smooth))
	]),
	{
		box: true, minorX: 75,
		legend: [
			{t: 'PVDF pellets', px: 5, py: 10.7, color: '#000', len: 26},
			{t: 'Pristine PVDF membrane', px: 118, py: 10.7, color: RED, len: 27},
			{t: 'Gd_{5}Si_{4}-PVDF membrane', px: 5, py: 26.7, color: TEAL, len: 26}
		],
		notes: dMarkName.map((n, i) => ({t: n, x: dMarkLabelW[i], y: dMarkLabelY[i], size: 16, fam: SERIF, color: '#222', align: 'center'})).concat([
			{t: '(d)', x: 1448.6, y: 9.43, size: 19, align: 'center'}
		]),
		xTitle: {t: 'Wavenumber (cm^{-1})', off: 40, size: 18},
		yTitle: {t: 'Intensity (arb. units)', off: 28, size: 18}
	});

// ----- ----- -----
// (e) and (f) fitted CH2 bands
// ----- ----- -----

function bandSets(raw, fit, b1, b2, b3, b4, marks, top, blue) {
	return [
		line(fitWave, fit, RED, Object.assign({borderWidth: 2.2}, smooth)),
		line(fitWave, b4, ORANGE, smooth),
		line(fitWave, b3, '#6d0f12', smooth),
		line(fitWave, b2, blue, smooth),
		line(fitWave, b1, '#000', smooth),
		line(rawWave, raw, GRAY, {borderWidth: 1.7})
	].concat(marks.map(w => marker(w, -1, top, '#9a9a9a')));
}

build('chartE', {x: 64, y: 636, w: 351, h: 261}, {l: 56, t: 12, r: 20, b: 52},
	axis(2920, 3100, 50, {labels: true, fs: 17, at: waveTicks}),
	axis(-1, 5.52, 1),
	bandSets(eRaw, eFit, eBand1, eBand2, eBand3, eBand4, eMarkW, eMarkTop, '#1818c8'),
	{
		box: true, minorX: 25, minorY: 0.5,
		legend: [
			{t: 'Raw data', px: 258, py: 12.3, color: GRAY, len: 31, size: 13},
			{t: 'Fit', px: 258, py: 27.3, color: RED, len: 31, size: 13}
		],
		notes: [
			{t: 'υ_{s} (CH_{2})', x: 2944.6, y: 5.04, size: 16},
			{t: 'υ_{as} (CH_{2})', x: 2985.6, y: 5.04, size: 16},
			{t: '(e)', x: 3089, y: 2.83, size: 19, align: 'center'}
		],
		xTitle: {t: 'Wavenumber (cm^{-1})', off: 43, size: 17},
		yTitle: {t: 'Intensity (arb. units)', off: 19.5, size: 17}
	}, 409);

build('chartF', {x: 452, y: 635, w: 357, h: 261}, {l: 36, t: 12, r: 30, b: 52},
	axis(2920, 3100, 50, {labels: true, fs: 17, at: waveTicks}),
	axis(-1, 7, 1),
	bandSets(fRaw, fFit, fBand1, fBand2, fBand3, fBand4, fMarkW, fMarkTop, '#0e1d8e'),
	{
		box: true, minorX: 25, minorY: 0.5,
		legend: [
			{t: 'Raw data', px: 263, py: 11, color: GRAY, len: 32, size: 13},
			{t: 'Fit', px: 263, py: 26.7, color: RED, len: 32, size: 13}
		],
		notes: [
			{t: 'υ_{s} (CH_{2})', x: 2945.9, y: 6.42, size: 16},
			{t: 'υ_{as} (CH_{2})', x: 2986.2, y: 6.42, size: 16},
			{t: '(f)', x: 3090.4, y: 3.77, size: 19, align: 'center'},
			{t: '(e)', x: 2941.7, y: 0.1, size: 19, align: 'center'}
		],
		xTitle: {t: 'Wavenumber (cm^{-1})', off: 44, size: 17},
		yTitle: {t: 'Intensity (arb. units)', off: 19, size: 17}
	});
</script>
</body>
</html>
